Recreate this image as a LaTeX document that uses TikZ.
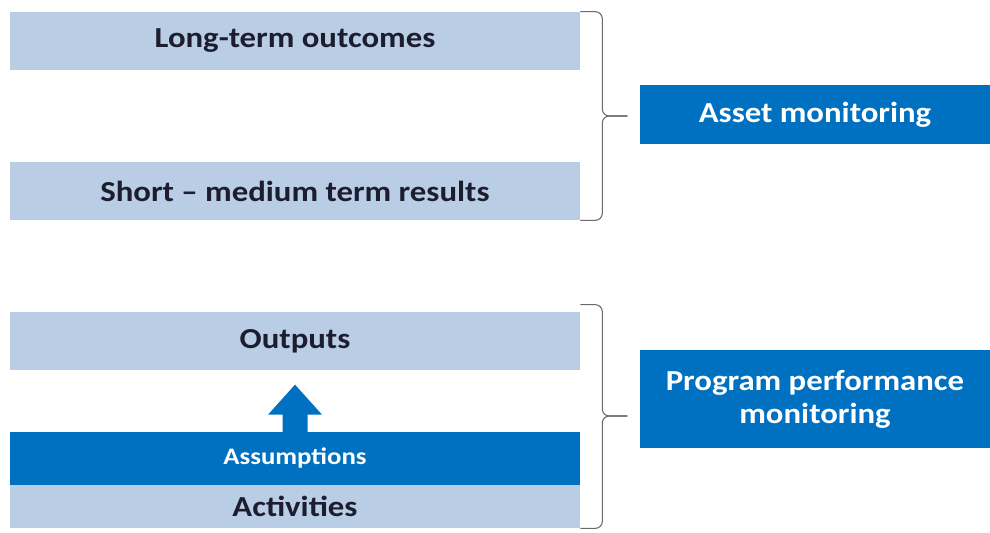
\documentclass[tikz,border=0pt]{standalone}
\usepackage{fontspec}
\setmainfont{Carlito}[FakeStretch=1.13]
\usepackage{tikz}
\usetikzlibrary{calc}
\definecolor{paleblue}{RGB}{185,205,229}
\definecolor{deepblue}{RGB}{0,112,192}
\definecolor{inkdark}{RGB}{28,30,48}
\definecolor{bracegray}{RGB}{105,105,110}
\tikzset{
  stage/.style={rectangle, fill=paleblue, minimum width=11.4cm, minimum height=1.16cm, inner sep=0pt, text=inkdark, font=\fontsize{16.5}{19}\selectfont\bfseries},
  band/.style={rectangle, fill=deepblue, minimum width=11.4cm, inner sep=0pt, text=white, font=\fontsize{13.5}{15}\selectfont\bfseries},
  tagbox/.style={rectangle, fill=deepblue, minimum width=7cm, inner sep=0pt, align=center, text=white, font=\fontsize{16.5}{18.7}\selectfont\bfseries},
  curly/.style={draw=bracegray, line width=0.6pt, rounded corners=0.14cm},
}
\begin{document}
\begin{tikzpicture}[x=0.02cm, y=-0.02cm]
  \useasboundingbox (0,0) rectangle (990,532);

  % Upper group - results
  \node[stage] (longterm) at (295,41) {Long-term outcomes};
  \node[stage] (shortterm) at (295,191) {Short -- medium term results};

  % Lower group - program
  \node[stage] (outputs) at (295,341) {Outputs};
  \node[band, minimum height=1.06cm] (assume) at (295,458.5) {\raisebox{-3pt}{Assumptions}};
  \node[stage, minimum height=0.86cm] (activities) at (295,506.5) {Activities};

  % Block arrow from assumptions up to outputs
  \begin{scope}[shift={(assume.north)}]
    \fill[deepblue] (-12.5,2) -- (-12.5,-17) -- (-27,-17) -- (0,-47) -- (27,-17) -- (12.5,-17) -- (12.5,2) -- cycle;
  \end{scope}

  % Monitoring labels
  \node[tagbox, minimum height=1.18cm] (asset) at (815,114.5) {Asset monitoring};
  \node[tagbox, minimum height=1.96cm] (program) at (815,399) {Program performance\\monitoring};

  % Braces
  \coordinate (tipA) at ($(longterm.north east)!0.5!(shortterm.south east)+(47,0)$);
  \draw[curly] (longterm.north east) -- ++(22,0) |- (tipA);
  \draw[curly] (shortterm.south east) -- ++(22,0) |- (tipA);
  \coordinate (tipB) at ($(outputs.north east)!0.5!(activities.south east)+(47,-4)$);
  \draw[curly] ([yshift=0.14cm]outputs.north east) -- ++(22,0) |- (tipB);
  \draw[curly] (activities.south east) -- ++(22,0) |- (tipB);
\end{tikzpicture}
\end{document}
